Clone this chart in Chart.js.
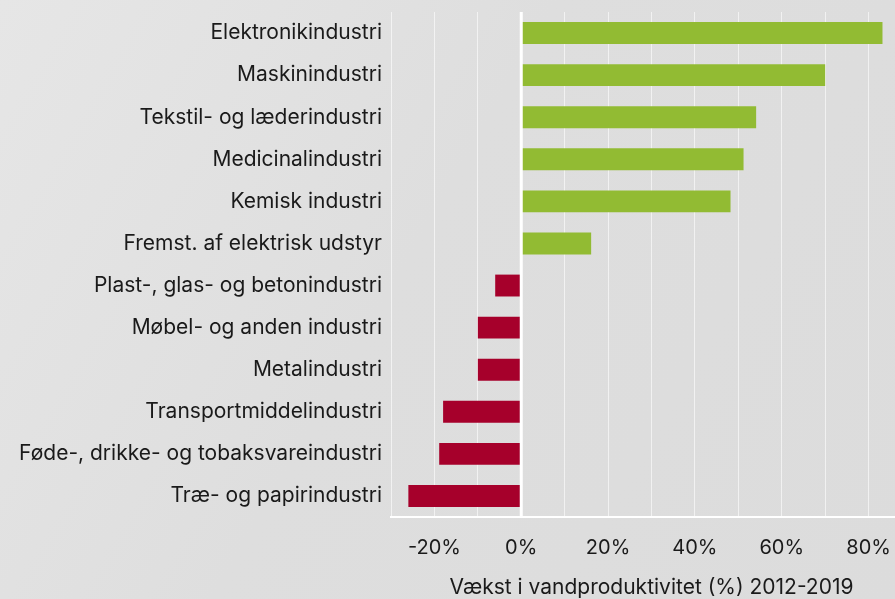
<!DOCTYPE html>
<html>
<head>
<meta charset="utf-8">
<script src="https://cdn.jsdelivr.net/npm/chart.js@4"></script>
<style>
    html, body {
        margin: 0;
        padding: 0;
        width: 895px;
        height: 599px;
        overflow: hidden;
        background: linear-gradient(120deg, #e6e6e6 0%, #dedede 45%, #dcdcdc 100%);
    }
    canvas {
        display: block;
    }
</style>
</head>
<body>
<canvas id="VandChart" width="912" height="599"></canvas>
<script>
// data
const industries = [
    "Elektronikindustri",
    "Maskinindustri",
    "Tekstil- og læderindustri",
    "Medicinalindustri",
    "Kemisk industri",
    "Fremst. af elektrisk udstyr",
    "Plast-, glas- og betonindustri",
    "Møbel- og anden industri",
    "Metalindustri",
    "Transportmiddelindustri",
    "Føde-, drikke- og tobaksvareindustri",
    "Træ- og papirindustri"
];
const growth = [83.2, 70.0, 54.1, 51.2, 48.2, 16.1, -6.0, -10.0, -10.0, -18.0, -18.9, -26.0];
const xTicks = [-20, 0, 20, 40, 60, 80];
const axisTitle = "Vækst i vandproduktivitet (%) 2012-2019";

const green = "#92bb33";
const red = "#a6002b";
const fontFamily = "Inter, 'DejaVu Sans', sans-serif";

// white zero line on top of the bars
const zeroLine = {
    id: "zeroLine",
    afterDatasetsDraw: function (chart) {
        const x = chart.scales.x.getPixelForValue(0);
        const ctx = chart.ctx;
        ctx.save();
        ctx.strokeStyle = "#ffffff";
        ctx.lineWidth = 3;
        ctx.beginPath();
        ctx.moveTo(x, chart.chartArea.top);
        ctx.lineTo(x, chart.chartArea.bottom);
        ctx.stroke();
        ctx.restore();
    }
};

const ctx = document.getElementById("VandChart");
new Chart(ctx, {
    type: "bar",
    data: {
        labels: industries,
        datasets: [
            {
                label: "Vækst",
                data: growth,
                backgroundColor: growth.map(v => v >= 0 ? green : red),
                barPercentage: 0.52,
                categoryPercentage: 1
            }
        ]
    },
    options: {
        indexAxis: "y",
        responsive: false,
        animation: false,
        layout: {
            padding: { top: 12, left: 0, right: 0, bottom: 0 }
        },
        plugins: {
            legend: { display: false },
            tooltip: { enabled: false }
        },
        scales: {
            x: {
                min: -30,
                max: 90,
                afterBuildTicks: function (scale) {
                    const t = [];
                    for (let v = -30; v <= 90; v += 10) t.push({ value: v });
                    scale.ticks = t;
                },
                afterFit: function (scale) {
                    scale.height = 82;
                    scale.paddingLeft = 0;
                    scale.paddingRight = 0;
                },
                grid: {
                    drawTicks: false,
                    color: "rgba(255,255,255,0.6)",
                    lineWidth: 1
                },
                border: {
                    display: true,
                    color: "#ffffff",
                    width: 2
                },
                ticks: {
                    padding: 19,
                    color: "#1a1a1a",
                    font: { family: fontFamily, size: 20 },
                    callback: function (value) {
                        return xTicks.includes(value) ? value + "%" : "";
                    },
                    maxRotation: 0,
                    autoSkip: false
                },
                title: {
                    display: true,
                    text: axisTitle,
                    color: "#1a1a1a",
                    font: { family: fontFamily, size: 21 },
                    padding: { top: 0, bottom: -1.5 }
                }
            },
            y: {
                afterFit: function (scale) {
                    scale.width = 391;
                    scale.paddingTop = 0;
                    scale.paddingBottom = 0;
                },
                grid: { display: false, drawTicks: false },
                border: { display: false },
                ticks: {
                    padding: 9,
                    color: "#1a1a1a",
                    font: { family: fontFamily, size: 21 },
                    autoSkip: false
                }
            }
        }
    },
    plugins: [zeroLine]
});
</script>
</body>
</html>
